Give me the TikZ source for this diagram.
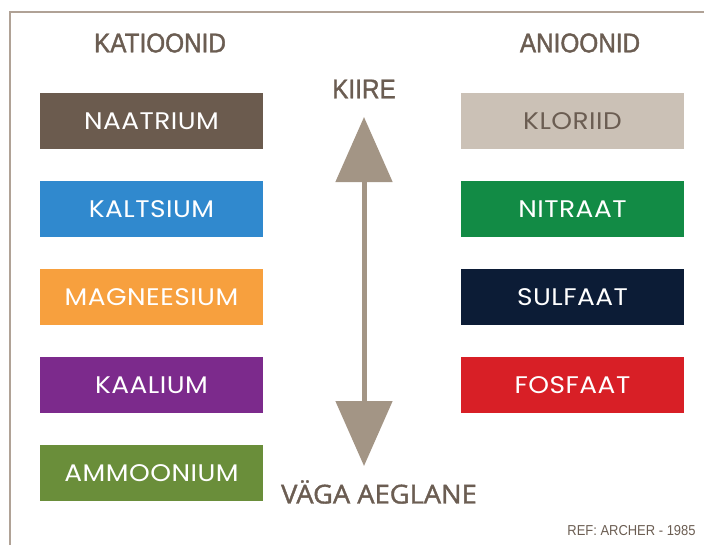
\documentclass[tikz,border=0pt]{standalone}
\usepackage{fontspec}
\setmainfont{Open Sans}
\newfontfamily\boxfont[FakeStretch=1.1, LetterSpace=2]{Poppins}
\newfontfamily\headfont[FakeBold=1.5, FakeStretch=0.9]{Liberation Sans}
\newfontfamily\scalefont[FakeBold=1.5, FakeStretch=1.05]{Open Sans}
\newfontfamily\reffont[FakeStretch=0.9]{Liberation Sans}
\usepackage{xcolor}
\usepackage{tikz}
\usetikzlibrary{arrows.meta}

\definecolor{ink}{HTML}{6B5D52}
\definecolor{frame}{HTML}{B0A296}
\definecolor{arrowgray}{HTML}{A39585}
\definecolor{natrium}{HTML}{6B5B4E}
\definecolor{kaltsium}{HTML}{3089CE}
\definecolor{magneesium}{HTML}{F7A03E}
\definecolor{kaalium}{HTML}{7C2A8C}
\definecolor{ammoonium}{HTML}{6A8E3A}
\definecolor{kloriid}{HTML}{CBC1B6}
\definecolor{nitraat}{HTML}{128B45}
\definecolor{sulfaat}{HTML}{0C1C36}
\definecolor{fosfaat}{HTML}{D81F26}

\begin{document}
\begin{tikzpicture}[x=0.5pt, y=-0.5pt,
  ion/.style={minimum width=111.5pt, minimum height=28pt, inner sep=0pt,
    text=white, font=\boxfont\fontsize{12}{12}\selectfont},
  head/.style={text=ink, font=\headfont\fontsize{13.5}{13.5}\selectfont},
  label/.style={text=ink, font=\scalefont\fontsize{13}{13}\selectfont}]
\useasboundingbox (0,0) rectangle (704,545);
% frame
\draw[frame, line width=0.75pt] (10,545) -- (10,12) -- (704,12);

% column headings
\node[head] (kat) at (160,43) {KATIOONID};
\node[head] (ani) at (580,43) {ANIOONID};

% cations
\node[ion, fill=natrium] (na) at (151.5,121) {NAATRIUM};
\node[ion, fill=kaltsium] (ca) at (151.5,209) {KALTSIUM};
\node[ion, fill=magneesium] (mg) at (151.5,297) {MAGNEESIUM};
\node[ion, fill=kaalium] (k) at (151.5,385) {KAALIUM};
\node[ion, fill=ammoonium] (nh) at (151.5,473) {AMMOONIUM};

% anions
\node[ion, fill=kloriid, text=ink] (cl) at (572.5,121) {KLORIID};
\node[ion, fill=nitraat] (no) at (572.5,209) {NITRAAT};
\node[ion, fill=sulfaat] (so) at (572.5,297) {SULFAAT};
\node[ion, fill=fosfaat] (po) at (572.5,385) {FOSFAAT};

% speed scale
\node[text=ink, font=\headfont\fontsize{13.5}{13.5}\selectfont] (fast) at (364,89) {KIIRE};
\node[label] (slow) at (379,492) {VÄGA AEGLANE};
\coordinate (fasttip) at (364,117);
\coordinate (slowtip) at (364,466);
\draw[arrowgray, line width=2.5pt,
  {Triangle[width=28pt, length=32.5pt]}-{Triangle[width=28pt, length=32.5pt]}]
  (fasttip) -- (slowtip);

\node[text=ink, font=\reffont\fontsize{7.2}{7.2}\selectfont, anchor=east, inner sep=0pt] (ref) at (696,531) {REF: ARCHER - 1985};
\end{tikzpicture}
\end{document}
